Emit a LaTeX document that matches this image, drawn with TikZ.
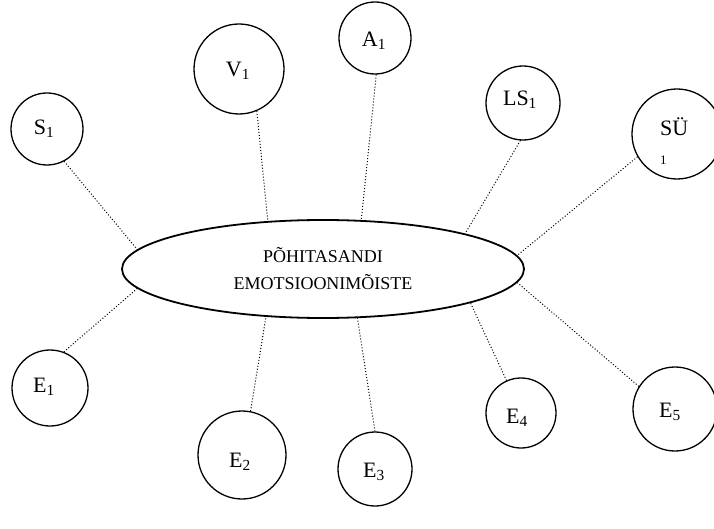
\documentclass[tikz,border=0pt]{standalone}
\usepackage{fontspec}
\setmainfont{Liberation Serif}
\usetikzlibrary{shapes.geometric}
\begin{document}
\begin{tikzpicture}[x=1pt,y=-1pt,
  conc/.style={circle,draw,line width=1.3pt,minimum size=#1,inner sep=0pt},
  conc/.default=72pt,
  clab/.style={inner sep=0pt,font=\fontsize{22}{26}\selectfont},
  core/.style={ellipse,draw,line width=1.8pt,minimum width=402pt,minimum height=98pt,
    inner sep=0pt,align=center,font=\fontsize{18}{27}\selectfont},
  link/.style={dotted,line width=1pt}]
\useasboundingbox (0,0) rectangle (714,529);

% central concept
\node[core] (ell) at (323,269) {PÕHITASANDI\\EMOTSIOONIMÕISTE};

% upper circles
\node[conc] (s1) at (47,129) {};
\node[conc=90pt] (v1) at (239,69) {};
\node[conc] (a1) at (375,38) {};
\node[conc=74pt] (ls1) at (523,103) {};
\node[conc=90pt] (su1) at (677,134) {};

% lower circles
\node[conc=76pt] (e1) at (50,388) {};
\node[conc=88pt] (e2) at (242,455) {};
\node[conc=74pt] (e3) at (375,469) {};
\node[conc=70pt] (e4) at (521,413) {};
\node[conc=84pt] (e5) at (675,409) {};

% circle labels
\node[clab] (s1t) at (44,129) {S\textsubscript{1}};
\node[clab] (v1t) at (238,71) {V\textsubscript{1}};
\node[clab] (a1t) at (374,41) {A\textsubscript{1}};
\node[clab] (ls1t) at (520,100) {LS\textsubscript{1}};
\node[clab,anchor=base west] (su1t) at (660,136) {SÜ};
\node[inner sep=0pt,anchor=base west,font=\fontsize{13}{15}\selectfont] (su1s) at (660,165) {1};
\node[clab] (e1t) at (44,387) {E\textsubscript{1}};
\node[clab] (e2t) at (240,462) {E\textsubscript{2}};
\node[clab] (e3t) at (374,472) {E\textsubscript{3}};
\node[clab] (e4t) at (517,418) {E\textsubscript{4}};
\node[clab] (e5t) at (670,412) {E\textsubscript{5}};

% dotted links to the central concept
\draw[link] (s1.-62.1) -- (ell.174.2);
\draw[link] (v1.-67.6) -- (ell.139.4);
\draw[link] (a1.-88.6) -- (ell.52.5);
\draw[link] (ls1.-94.3) -- (ell.14.1);
\draw[link] (su1.-150) -- (ell.4.9);
\draw[link] (e1.69.8) -- (ell.-174.2);
\draw[link] (e2.79.9) -- (ell.-140.8);
\draw[link] (e3.90) -- (ell.-55.7);
\draw[link] (e4.114.6) -- (ell.-13.4);
\draw[link] (e5.148.2) -- (ell.-4.5);
\end{tikzpicture}
\end{document}
